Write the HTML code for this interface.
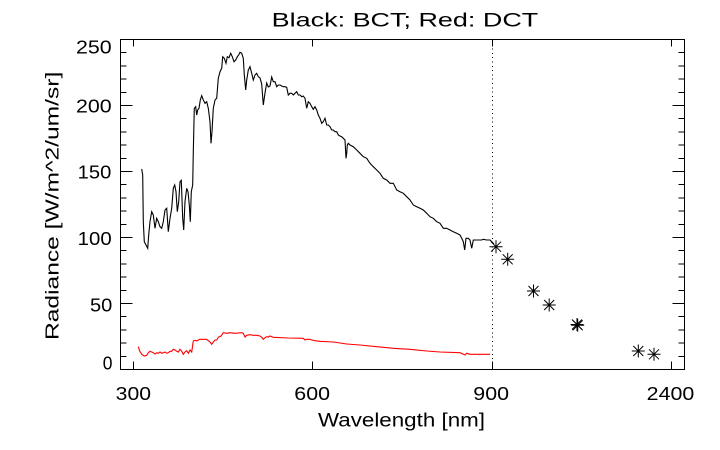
<!DOCTYPE html>
<html>
<head>
<meta charset="utf-8">
<style>
  html, body { margin: 0; padding: 0; background: #ffffff; }
  svg { display: block; }
  text { font-family: "Liberation Sans", "DejaVu Sans", sans-serif; fill: #000; }
</style>
</head>
<body>
<svg width="720" height="450" viewBox="0 0 720 450" xmlns="http://www.w3.org/2000/svg">
  <rect x="0" y="0" width="720" height="450" fill="#ffffff"/>

  <!-- Title -->
  <text x="271.7" y="26.7" font-size="19" textLength="266.6" lengthAdjust="spacingAndGlyphs">Black: BCT; Red: DCT</text>

  <!-- Axes box -->
  <g stroke="#000" stroke-width="1" fill="none" shape-rendering="crispEdges">
    <rect x="120.5" y="39.5" width="564" height="330"/>
    <path d="
      M120.5,356.3 H126.5 M120.5,343.1 H126.5 M120.5,329.9 H126.5 M120.5,316.7 H126.5 M120.5,303.5 H132.5
      M120.5,290.3 H126.5 M120.5,277.1 H126.5 M120.5,263.9 H126.5 M120.5,250.7 H126.5 M120.5,237.5 H132.5
      M120.5,224.3 H126.5 M120.5,211.1 H126.5 M120.5,197.9 H126.5 M120.5,184.7 H126.5 M120.5,171.5 H132.5
      M120.5,158.3 H126.5 M120.5,145.1 H126.5 M120.5,131.9 H126.5 M120.5,118.7 H126.5 M120.5,105.5 H132.5
      M120.5,92.3 H126.5 M120.5,79.1 H126.5 M120.5,65.9 H126.5 M120.5,52.7 H126.5
      M684.5,356.3 H678.5 M684.5,343.1 H678.5 M684.5,329.9 H678.5 M684.5,316.7 H678.5 M684.5,303.5 H672.5
      M684.5,290.3 H678.5 M684.5,277.1 H678.5 M684.5,263.9 H678.5 M684.5,250.7 H678.5 M684.5,237.5 H672.5
      M684.5,224.3 H678.5 M684.5,211.1 H678.5 M684.5,197.9 H678.5 M684.5,184.7 H678.5 M684.5,171.5 H672.5
      M684.5,158.3 H678.5 M684.5,145.1 H678.5 M684.5,131.9 H678.5 M684.5,118.7 H678.5 M684.5,105.5 H672.5
      M684.5,92.3 H678.5 M684.5,79.1 H678.5 M684.5,65.9 H678.5 M684.5,52.7 H678.5
    "/>
    <path d="
      M133.5,369.5 V361.5 M312.5,369.5 V361.5 M492.5,369.5 V361.5 M671.5,369.5 V361.5
      M133.5,39.5 V46.5 M312.5,39.5 V46.5 M492.5,39.5 V46.5 M671.5,39.5 V46.5
    "/>
  </g>

  <!-- Dotted vertical line at 900 -->
  <line x1="492.5" y1="40" x2="492.5" y2="369" stroke="#000" stroke-width="1" stroke-dasharray="1 3.3" shape-rendering="crispEdges"/>

  <!-- Y tick labels -->
  <g font-size="18">
    <text x="76" y="53.3" textLength="35.7" lengthAdjust="spacingAndGlyphs">250</text>
    <text x="76" y="112.3" textLength="35.7" lengthAdjust="spacingAndGlyphs">200</text>
    <text x="77.7" y="178.7" textLength="33.6" lengthAdjust="spacingAndGlyphs">150</text>
    <text x="77.7" y="245" textLength="34" lengthAdjust="spacingAndGlyphs">100</text>
    <text x="90" y="311.6" textLength="22.3" lengthAdjust="spacingAndGlyphs">50</text>
    <text x="102.7" y="369.3" textLength="9.7" lengthAdjust="spacingAndGlyphs">0</text>
  </g>

  <!-- X tick labels -->
  <g font-size="18">
    <text x="115.7" y="400" textLength="35.3" lengthAdjust="spacingAndGlyphs">300</text>
    <text x="294.3" y="400" textLength="35.7" lengthAdjust="spacingAndGlyphs">600</text>
    <text x="473.3" y="400" textLength="35.7" lengthAdjust="spacingAndGlyphs">900</text>
    <text x="646.7" y="400" textLength="47.6" lengthAdjust="spacingAndGlyphs">2400</text>
  </g>

  <!-- Axis titles -->
  <text x="318" y="426.7" font-size="19" textLength="167" lengthAdjust="spacingAndGlyphs">Wavelength [nm]</text>
  <text transform="translate(58.3,340) rotate(-90)" x="0" y="0" font-size="18.5" textLength="268.3" lengthAdjust="spacingAndGlyphs">Radiance [W/m^2/um/sr]</text>

  <!-- Black BCT spectrum -->
  <path fill="none" stroke="#000" stroke-width="1.1" stroke-linejoin="miter" d="
    M141.7,169 L142.7,175 L143.3,221.7 L144.3,241.7 L146,245 L147.7,248.3 L148.7,235 L150,221.7 L151.7,211.7
    L153.3,215 L155,228.3 L156.7,218.3 L158.3,221.7 L160,226.7 L161.7,228.3 L163.3,221.7 L165,210 L166.7,208.3
    L168.3,231.7 L170,218.3 L171.7,208.3 L173.3,188.3 L174.7,185 L176,191.7 L177.3,211.7 L178.7,201.7 L180,181.7
    L181.3,180.3 L182.7,218.3 L183.7,230 L185,201.7 L186.7,188.3 L188,191.7 L189.3,205 L190.3,221.7 L191.3,191.7
    L192.7,185 L193.3,151.7 L194.3,108.3 L195.7,106.7 L196.7,115 L197.7,110 L199,108.3 L200.3,100 L201.7,95.7
    L203.3,100 L205,103.3 L206.7,101.7 L208.3,108.3 L210,121.7 L211,143.3 L212,131.7 L213.3,108.3 L215,100
    L216.7,98.3 L218.3,78.3 L220,71.7 L221.7,68.3 L222.7,56.7 L224.3,58.3 L226,63.3 L227.3,56.7 L229,57.7
    L230.7,53.3 L232.3,56.7 L234,61.7 L235.7,60 L237.3,56.7 L238.7,55 L240,52.3 L241.7,53.3 L243.3,58.3
    L244.3,75 L245.7,90 L246.7,80 L248.3,70 L250,66.7 L251.7,73.3 L253.3,80 L255,75 L256.7,73.3 L258.3,76.7
    L260,78 L261.7,84 L263.3,105 L265,93 L266.7,83 L268.3,87 L270,86 L271.7,77
    L273.3,81.7 L275,81.7 L276.7,86.7 L278.3,85 L280,85 L281.7,86 L283.3,86.7 L285,86.7 L286.7,87.3
    L288.3,95 L290,93.3 L291.7,93.3 L293.3,95 L295,93.3 L296.7,91.7 L298.3,95 L300,95 L301.7,96.7 L303.3,96
    L305,98.3 L306.7,108.3 L308.3,101.7 L310,103.3 L311.7,106.7 L313.3,109.3 L315,106.7 L316.7,110 L318.3,115
    L320,118.3 L321.7,123.3 L323.3,121.7 L325,118.3 L326.7,125 L328.3,125 L330,126.7 L331.7,130 L333.3,130
    L335,131.7 L336.7,131.7 L338.3,135 L340,136 L341.7,136.7 L343.3,138.3 L345,140 L346,158.3 L346.7,153.3
    L347.3,145 L348.3,143.3 L350,145 L353.3,146.7 L356.7,150 L360,153.3 L363.3,156.7 L366.7,158.3 L370,163.3
    L373.3,166.7 L376.7,170 L380,173.3 L383.3,178.3 L386.7,180 L390,183.3 L393.3,183.3 L396.7,190 L400,191.7
    L403.3,193.3 L406.7,196.7 L410,200 L413.3,205 L416.7,206.7 L420,208.3 L423.3,210 L426.7,213.3 L430,216.7
    L433.3,218.3 L436.7,221.7 L440,223.3 L443.3,228.3 L446.7,228.3 L450,230 L453.3,231.7 L456.7,233.3 L460,235
    L461.7,238.3 L463.3,241.7 L464.7,250 L466,238.3 L468.3,238.3 L470,240 L471.7,248.3 L473.3,240 L475,240
    L478.3,240 L481.7,240 L483.3,239.3 L486.7,240 L490,240 L491.7,241.7 L494,244
  "/>

  <!-- Red DCT spectrum -->
  <path fill="none" stroke="#ff0000" stroke-width="1.1" d="
    M138.3,346.7 L139.7,351 L141.7,354.3 L144.3,356 L146.7,355.3 L148.3,352.7 L150,351.3 L151.7,352 L153.3,352.7
    L155,354 L156.7,352.7 L158.3,353.3 L160,352 L161.7,353.3 L163.3,352.7 L165,352 L166.7,353.3 L168.3,352.7
    L170,351.3 L171.7,351.3 L173.3,349.3 L175,350 L176.7,351.3 L178.3,352 L180,349.3 L181.7,351.3 L183.3,354.3
    L185,352 L186.7,350.7 L188.3,353.3 L190,350 L191.7,352 L193.3,341 L195,340.3 L196.7,341 L198.3,340
    L200,339.3 L203.3,339.3 L206.7,339.3 L208.3,340.7 L210,342 L211.7,344.3 L213.3,342 L215,340 L216.7,340
    L218.3,337.3 L221,336 L222.3,334.3 L223.3,332.7 L226.7,333.3 L230,332.7 L235,333.3 L241.7,332.7 L243.3,333.3
    L245,337 L246.7,335.3 L250,334.7 L253.3,335.3 L256.7,335.3 L260,336 L261.7,337.3 L263.3,339.3 L265,337.7
    L266.7,336.7 L268.3,337 L270,336 L273.3,337.3 L288.3,338 L303.3,338.3 L305,340 L306.7,339.3 L310,339.3
    L311.7,340 L315,340.7 L320,341.3 L333.3,342 L346.7,344 L360,345 L376.7,346.7 L393.3,348.3 L410,349.3
    L426.7,351 L440,352 L460,352.7 L465,355 L466.7,353.3 L470,354.3 L473.3,354.3 L490,354.3
  "/>

  <!-- Asterisks -->
  <defs>
    <g id="ast">
      <path d="M-6.5,0 H6.5 M0,-6.5 V6.5 M-5,-5 L5,5 M-5,5 L5,-5" stroke="#000" stroke-width="1" fill="none"/>
      <rect x="-1" y="-1" width="2" height="2" fill="#000"/>
    </g>
  </defs>
  <use href="#ast" x="496" y="246.7"/>
  <use href="#ast" x="507.7" y="259.3"/>
  <use href="#ast" x="533.5" y="291"/>
  <use href="#ast" x="549.2" y="305"/>
  <use href="#ast" x="577" y="324.5"/>
  <use href="#ast" x="577.7" y="325.3"/>
  <use href="#ast" x="638.3" y="351"/>
  <use href="#ast" x="654" y="354.3"/>
</svg>
</body>
</html>
